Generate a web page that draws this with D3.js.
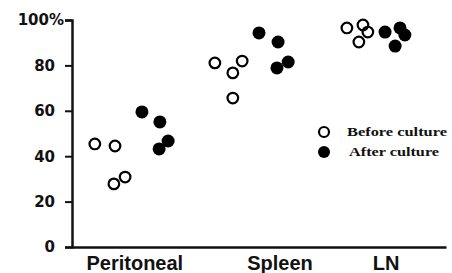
<!DOCTYPE html>
<html lang="en">
<head>
    <meta charset="UTF-8">
    <title>Before / after culture</title>
    <script src="https://cdn.jsdelivr.net/npm/d3@7/dist/d3.min.js"></script>
    <style>
        html, body {
            margin: 0;
            padding: 0;
            background: #fff;
        }
        svg { display: block; }
    </style>
</head>
<body>
<div id="chart"></div>
<script>
    // categories and where they sit along the x axis (0-100 units)
    var categories = ["Peritoneal", "Spleen", "LN"];
    var categoryPos = [16.8, 55.6, 84.0];

    // y ticks
    var yTicks = [0, 20, 40, 60, 80, 100];

    // before culture (open circles): x position (jittered, axis units) and % value
    var beforeX = [6.1, 11.5, 11.2, 14.2, 38.2, 45.5, 43.0, 43.0, 73.5, 77.8, 79.1, 76.7];
    var beforeY = [45.4, 44.5, 27.8, 30.8, 81.1, 81.9, 76.7, 65.6, 96.5, 97.8, 94.7, 90.3];

    // after culture (filled circles)
    var afterX = [18.7, 23.5, 25.7, 23.3, 50.0, 55.1, 57.8, 54.8, 83.7, 87.7, 89.0, 86.4];
    var afterY = [59.5, 55.1, 46.7, 43.2, 94.3, 90.3, 81.5, 78.9, 94.7, 96.5, 93.4, 88.5];

    var legendLabels = ["Before culture", "After culture"];

    var W = 452, H = 273;
    var svg = d3.select("#chart").append("svg")
        .attr("width", W)
        .attr("height", H);

    var x = d3.scaleLinear().domain([0, 100]).range([72, 446]);
    var y = d3.scaleLinear().domain([0, 100]).range([247, 20]);

    // y axis
    var yAxis = svg.append("g")
        .attr("transform", "translate(" + x(0) + ",0)")
        .call(d3.axisLeft(y).tickValues(yTicks).tickSize(7).tickPadding(10)
            .tickFormat(function (d) { return d === 100 ? "100%" : d; }));
    yAxis.select(".domain").attr("stroke", "#111").attr("stroke-width", 2.5);
    yAxis.selectAll(".tick line").attr("stroke", "#111").attr("stroke-width", 2);
    yAxis.selectAll(".tick text")
        .attr("font-family", "DejaVu Sans")
        .attr("font-weight", "bold")
        .attr("font-size", 15)
        .attr("fill", "#111")
        .attr("dx", function (d) { return d === 100 ? 9 : 0; });

    // x axis
    var xAxis = svg.append("g")
        .attr("transform", "translate(0," + y(0) + ")")
        .call(d3.axisBottom(x).tickValues([]).tickSizeOuter(0));
    xAxis.select(".domain").attr("stroke", "#111").attr("stroke-width", 2.5);

    svg.append("g").selectAll("text")
        .data(categories)
        .enter()
        .append("text")
        .attr("x", function (d, i) { return x(categoryPos[i]); })
        .attr("y", 270)
        .attr("text-anchor", "middle")
        .attr("font-family", "Liberation Sans")
        .attr("font-weight", "bold")
        .attr("font-size", 20)
        .attr("fill", "#111")
        .text(function (d) { return d; });

    // points
    svg.append("g").selectAll("circle")
        .data(d3.range(beforeX.length))
        .enter()
        .append("circle")
        .attr("cx", function (i) { return x(beforeX[i]); })
        .attr("cy", function (i) { return y(beforeY[i]); })
        .attr("r", 5.3)
        .attr("fill", "#fff")
        .attr("fill-opacity", 0)
        .attr("stroke", "#000")
        .attr("stroke-width", 2.2);

    svg.append("g").selectAll("circle")
        .data(d3.range(afterX.length))
        .enter()
        .append("circle")
        .attr("cx", function (i) { return x(afterX[i]); })
        .attr("cy", function (i) { return y(afterY[i]); })
        .attr("r", 6.5)
        .attr("fill", "#000");

    // legend
    var legend = svg.append("g").attr("transform", "translate(324,132)");
    legend.selectAll("circle")
        .data(legendLabels)
        .enter()
        .append("circle")
        .attr("cx", 0)
        .attr("cy", function (d, i) { return i * 20; })
        .attr("r", function (d, i) { return i ? 6 : 5; })
        .attr("fill", function (d, i) { return i ? "#000" : "none"; })
        .attr("stroke", function (d, i) { return i ? "none" : "#000"; })
        .attr("stroke-width", 2.2);
    legend.selectAll("text")
        .data(legendLabels)
        .enter()
        .append("text")
        .attr("x", function (d, i) { return i ? 25 : 23; })
        .attr("y", function (d, i) { return i * 20 + 4; })
        .attr("font-family", "Liberation Serif")
        .attr("font-weight", "bold")
        .attr("font-size", 13)
        .attr("fill", "#111")
        .attr("textLength", function (d, i) { return i ? 90 : 100; })
        .attr("lengthAdjust", "spacingAndGlyphs")
        .text(function (d) { return d; });
</script>
</body>
</html>
